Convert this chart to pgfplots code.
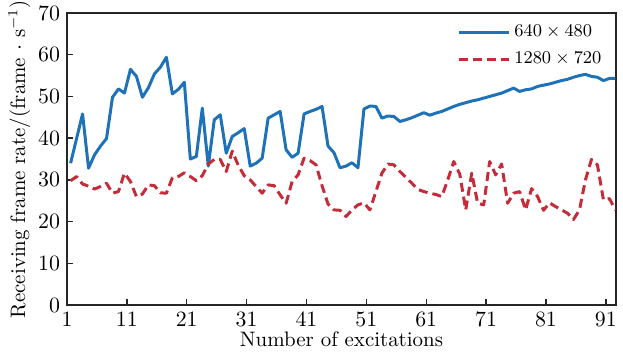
\documentclass[border=0pt]{standalone}
\usepackage{pgfplots}
\pgfplotsset{compat=1.18}
\usepackage{pgfplotstable}
\definecolor{cblue}{RGB}{31,114,184}
\definecolor{cred}{RGB}{196,44,58}
\pgfplotstableread{
n v
1 34.0
2 39.9
3 45.8
4 32.8
5 36.0
6 38.1
7 39.9
8 49.8
9 51.8
10 50.8
11 56.5
12 54.8
13 49.8
14 52.1
15 55.4
16 57.0
17 59.4
18 50.6
19 51.7
20 53.4
21 35.0
22 35.6
23 47.2
24 33.3
25 44.4
26 45.6
27 36.4
28 40.4
29 41.3
30 42.3
31 33.3
32 34.0
33 35.2
34 44.8
35 45.6
36 46.4
37 37.2
38 35.4
39 36.4
40 45.8
41 46.4
42 46.9
43 47.6
44 38.1
45 36.5
46 32.9
47 33.3
48 34.1
49 32.9
50 47.0
51 47.7
52 47.6
53 44.8
54 45.3
55 45.2
56 44.0
57 44.4
58 44.9
59 45.5
60 46.1
61 45.5
62 46.0
63 46.4
64 47.0
65 47.6
66 48.1
67 48.5
68 48.9
69 49.2
70 49.6
71 50.0
72 50.4
73 50.8
74 51.4
75 52.0
76 51.2
77 51.6
78 51.8
79 52.4
80 52.7
81 53.0
82 53.4
83 53.8
84 54.1
85 54.6
86 55.0
87 55.3
88 54.8
89 54.6
90 53.8
91 54.3
92 54.3
}\bluedata
\pgfplotstableread{
n v
1 29.8
2 30.8
3 29.0
4 28.5
5 27.8
6 28.4
7 29.2
8 26.8
9 27.2
10 31.6
11 29.6
12 26.0
13 26.6
14 28.8
15 28.6
16 26.9
17 26.8
18 30.5
19 30.8
20 31.7
21 30.8
22 29.8
23 31.0
24 33.8
25 34.9
26 34.9
27 32.0
28 36.9
29 33.5
30 31.0
31 30.0
32 28.4
33 26.8
34 28.8
35 28.6
36 26.4
37 24.4
38 29.6
39 31.2
40 35.2
41 34.6
42 33.6
43 28.6
44 24.2
45 22.8
46 22.7
47 21.2
48 22.8
49 24.0
50 24.5
51 22.8
52 27.2
53 31.6
54 33.8
55 33.6
56 32.0
57 30.6
58 29.2
59 27.7
60 27.2
61 26.8
62 26.5
63 26.0
64 30.0
65 34.4
66 31.4
67 22.8
68 31.6
69 24.4
70 24.0
71 34.4
72 31.2
73 33.8
74 24.4
75 26.8
76 27.2
77 22.8
78 27.9
79 26.0
80 22.7
81 24.5
82 23.6
83 22.8
84 22.0
85 20.5
86 22.8
87 30.0
88 34.9
89 33.6
90 25.2
91 25.5
92 22.8
}\reddata
\begin{document}
\begin{tikzpicture}
\begin{axis}[
  scale only axis,
  width=274.5bp, height=146bp,
  xmin=1, xmax=92.7,
  ymin=0, ymax=70,
  xtick={1,11,21,31,41,51,61,71,81,91},
  ytick={0,10,20,30,40,50,60,70},
  xtick pos=bottom, ytick pos=left,
  tick align=inside,
  major tick length=3bp,
  axis line style={line width=0.9pt, black!85},
  tick style={line width=0.7pt, black!85},
  tick label style={font=\fontsize{10.5}{12}\selectfont},
  label style={font=\fontsize{10.5}{12}\selectfont},
  xlabel={Number of excitations},
  ylabel={Receiving frame rate/(frame $\cdot$ s$^{-1}$)},
  xlabel style={yshift=4pt},
  ylabel style={yshift=-3pt},
  legend style={draw=none, fill=none, at={(rel axis cs:0.985,0.98)}, anchor=north east,
    font=\fontsize{9}{10}\selectfont, row sep=2.3pt, inner sep=1pt,
    /tikz/every even column/.append style={column sep=2pt}},
  legend cell align=left,
  legend image code/.code={\draw[#1] (0cm,0cm) -- (0.88cm,0cm);},
]
\addplot[cblue, line width=1.5pt, line join=round] table[x expr=\thisrow{n}+0.6, y=v] {\bluedata};
\addlegendentry{$640\times480$}
\addplot[cred, line width=1.5pt, dash pattern=on 4.5pt off 2.5pt, line join=round] table[x expr=\thisrow{n}+0.6, y=v] {\reddata};
\addlegendentry{$1280\times720$}
\end{axis}
\pgfresetboundingbox
\path ([xshift=-33.5bp,yshift=-24.5bp]current axis.south west) rectangle ([xshift=3.5bp,yshift=6.5bp]current axis.north east);
\end{tikzpicture}
\end{document}
